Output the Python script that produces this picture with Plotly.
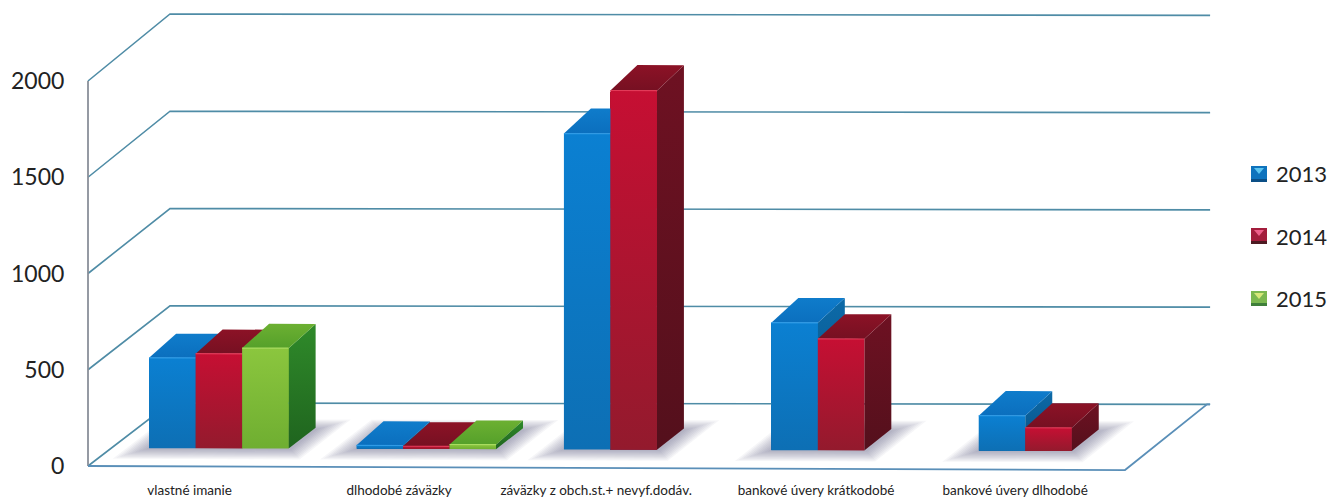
import plotly.graph_objects as go

categories = ["vlastné imanie", "dlhodobé záväzky", "záväzky z obch.st.+ nevyf.dodáv.",
              "bankové úvery krátkodobé", "bankové úvery dlhodobé"]
years = ["2013", "2014", "2015"]
v2013 = [468, 18, 1636, 660, 182]
v2014 = [490, 14, 1860, 577, 120]
v2015 = [520, 24, None, None, None]
series = [v2013, v2014, v2015]
y_ticks = [0, 500, 1000, 1500, 2000]
label_nudge = [-0.01, 0.0, -0.05, 0.01, -0.03]

# styling: oblique projection of the floor depth
PAGE = 0  # body margin is removed by the post script below
CAT_PX = 207.4
PX_PER_UNIT = 0.1925
DX, DY = 82 / CAT_PX, 63 / PX_PER_UNIT
WALL = 1.0104
TILT_FRONT, TILT_BACK = 21.0, 7.0
BAR_W = 46.5 / CAT_PX
BAR_SHIFT = 3.8 / CAT_PX
BAR_D0, BAR_D1 = 0.285, 0.285 + 27 / 82
BAR_RISE = 3 / PX_PER_UNIT
ML, MB = 78, 23
FIG_W, FIG_H = 1328 - PAGE, 499 - PAGE
X_LEFT, X_RIGHT = -0.5, 4.5
WALL_RIGHT = 5.015

face = [
    dict(front=["#0b80d2", "#0d6fb4"], top=["#0f7ccb", "#0b6fbe"], side=["#0c6aa8", "#0a4f82"], base="#0c74bd",
         hi="#2f9be6", key=("#0e73bd", "#5cc5f0", "#0b4f86")),
    dict(front=["#c60f33", "#931a2d"], top=["#8c1226", "#761022"], side=["#6e1122", "#54101c"], base="#aa1630",
         hi="#e23a58", key=("#a31d3c", "#ee5f8a", "#4d1a22")),
    dict(front=["#8bc63e", "#6fae31"], top=["#6cb032", "#55a02a"], side=["#2f8a2a", "#1f641e"], base="#7cb836",
         hi="#a9dc60", key=("#7cb850", "#d8e87a", "#3f7f3a")),
]
key_rows = [(166, 182, 173), (228, 244, 236), (291, 306, 298)]

def tilt(x, d):
    t = TILT_FRONT * (1 - d) + TILT_BACK * d
    return -t * (x - X_LEFT) / (X_RIGHT - X_LEFT)

def proj(x, v, d):
    return x + d * DX, v * (1 + (WALL - 1) * d) + d * DY + tilt(x, d)

def poly(points):
    xs, ys = zip(*[proj(*p) for p in points])
    return list(xs) + [xs[0]], list(ys) + [ys[0]]

def grad(points, colors):
    xs, ys = poly(points)
    return go.Scatter(x=xs, y=ys, mode="lines", line=dict(width=0), fill="toself",
                      fillgradient=dict(type="vertical", colorscale=[[0, colors[1]], [1, colors[0]]]),
                      hoverinfo="skip", showlegend=False, cliponaxis=False)

def flat(points, color):
    xs, ys = poly(points)
    return go.Scatter(x=xs, y=ys, mode="lines", line=dict(width=0), fill="toself", fillcolor=color,
                      hoverinfo="skip", showlegend=False, cliponaxis=False)

def line(points, color, width=1.6):
    xs, ys = zip(*[proj(*p) for p in points])
    return go.Scatter(x=list(xs), y=list(ys), mode="lines", line=dict(color=color, width=width),
                      hoverinfo="skip", showlegend=False, cliponaxis=False)

def paper_x(px):
    return (px - PAGE - ML) / (FIG_W - ML)

def paper_y(py):
    return 1 - (py - PAGE) / (FIG_H - MB)

fig = go.Figure()

# real bars (front faces): base follows the floor, height is the value
for s, (name, vals) in enumerate(zip(years, series)):
    xs, ys, bases = [], [], []
    for c, v in enumerate(vals):
        x0 = c + BAR_SHIFT + (s - 1.5) * BAR_W
        xs.append(x0 + BAR_W / 2 + BAR_D0 * DX)
        ys.append(v)
        bases.append(proj(x0, 0, BAR_D0)[1])
    fig.add_trace(go.Bar(x=xs, y=ys, base=bases, width=BAR_W, name=name, showlegend=False,
                         marker=dict(color=face[s]["base"], line=dict(width=0)), hoverinfo="skip"))

# walls and floor
wall_color = "#4f8ca6"
for v in y_ticks:
    fig.add_trace(line([(X_LEFT, v, 0), (X_LEFT, v, 1), (WALL_RIGHT + X_LEFT, v, 1)], wall_color))
fig.add_trace(line([(X_LEFT, 0, 0), (X_LEFT, 2000, 0)], "#8a8f99", 1.8))
fig.add_trace(line([(X_LEFT, 0, 0), (X_RIGHT, 0, 0), (X_RIGHT, 0, 1), (WALL_RIGHT + X_LEFT, 0, 1)], "#5a8fb8", 1.8))

# soft shadows on the floor
for c in range(len(categories)):
    n = sum(1 for vals in series if vals[c] is not None)
    xl = c + BAR_SHIFT - 1.5 * BAR_W
    xr = xl + n * BAR_W
    for k in range(10):
        e = 0.011 * k
        dn, df = BAR_D0 - 0.02 - e * 1.5, BAR_D1 - 0.02 + e * 1.5
        fig.add_trace(flat([(xl - 0.01 - e, 0, dn), (xr + 0.02 + e, 0, dn),
                            (xr + 0.02 + e, 0, df), (xl - 0.01 - e, 0, df)],
                           "rgba(85,85,115,0.05)"))

# bar faces painted left to right
for c in range(len(categories)):
    for s, vals in enumerate(series):
        v = vals[c]
        if v is None:
            continue
        xl = c + BAR_SHIFT + (s - 1.5) * BAR_W
        xr = xl + BAR_W
        d0, d1 = BAR_D0, BAR_D1
        vb = v + BAR_RISE
        fig.add_trace(grad([(xr, 0, d0), (xr, 0, d1), (xr, vb, d1), (xr, v, d0)], face[s]["side"]))
        fig.add_trace(grad([(xl, v, d0), (xr, v, d0), (xr, vb, d1), (xl, vb, d1)], face[s]["top"]))
        fig.add_trace(grad([(xl, 0, d0), (xr, 0, d0), (xr, v, d0), (xl, v, d0)], face[s]["front"]))
        fig.add_trace(line([(xl, v, d0), (xr, v, d0)], face[s]["hi"], 1.2))

# colour key with the bevelled swatches of the original
for s, name in enumerate(years):
    y0, y1, yt = key_rows[s]
    main, light, dark = face[s]["key"]
    x0, x1 = paper_x(1251), paper_x(1267)
    fig.add_shape(type="rect", xref="paper", yref="paper", x0=x0, x1=x1, y0=paper_y(y0), y1=paper_y(y1),
                  fillcolor=main, line=dict(width=0), layer="above")
    fig.add_shape(type="rect", xref="paper", yref="paper", x0=x0, x1=x1, y0=paper_y(y1 - 3), y1=paper_y(y1),
                  fillcolor=dark, line=dict(width=0), layer="above")
    fig.add_shape(type="path", xref="paper", yref="paper", layer="above", fillcolor=light, line=dict(width=0),
                  path=f"M {paper_x(1254)} {paper_y(y0 + 2)} L {paper_x(1264)} {paper_y(y0 + 2)} "
                       f"L {paper_x(1259)} {paper_y(y0 + 8)} Z")
    fig.add_annotation(text=name, xref="paper", yref="paper", x=paper_x(1274), y=paper_y(yt),
                       xanchor="left", yanchor="middle", showarrow=False, font=dict(size=22, family="Lato", color="#222222"))

plot_bottom_page = 499 - MB
fig.update_layout(
    width=FIG_W, height=FIG_H, paper_bgcolor="white", plot_bgcolor="white",
    margin=dict(l=ML, r=0, t=0, b=MB, autoexpand=False), barmode="overlay", bargap=0,
    font=dict(family="Lato", color="#222222"),
    showlegend=False,
    xaxis=dict(range=[X_LEFT - (88 - ML - PAGE) / CAT_PX, X_LEFT + (1328 - 88) / CAT_PX],
               tickmode="array", tickvals=[i + n for i, n in enumerate(label_nudge)],
               ticktext=categories, tickangle=0, tickfont=dict(size=13.5, family="Lato"),
               showgrid=False, zeroline=False, showline=False, ticks="outside", ticklen=2,
               tickcolor="rgba(0,0,0,0)", fixedrange=True, automargin=False),
    yaxis=dict(range=[-(plot_bottom_page - 466) / PX_PER_UNIT, (466 - PAGE) / PX_PER_UNIT],
               tickmode="array", tickvals=y_ticks, tickfont=dict(size=23, family="Lato"),
               showgrid=False, zeroline=False, showline=False, ticks="outside", ticklen=8,
               tickcolor="rgba(0,0,0,0)", fixedrange=True, automargin=False),
)
fig.write_html("out.html", config={"displayModeBar": False},
               post_script="document.body.style.margin='0';document.documentElement.style.overflow='hidden';")
